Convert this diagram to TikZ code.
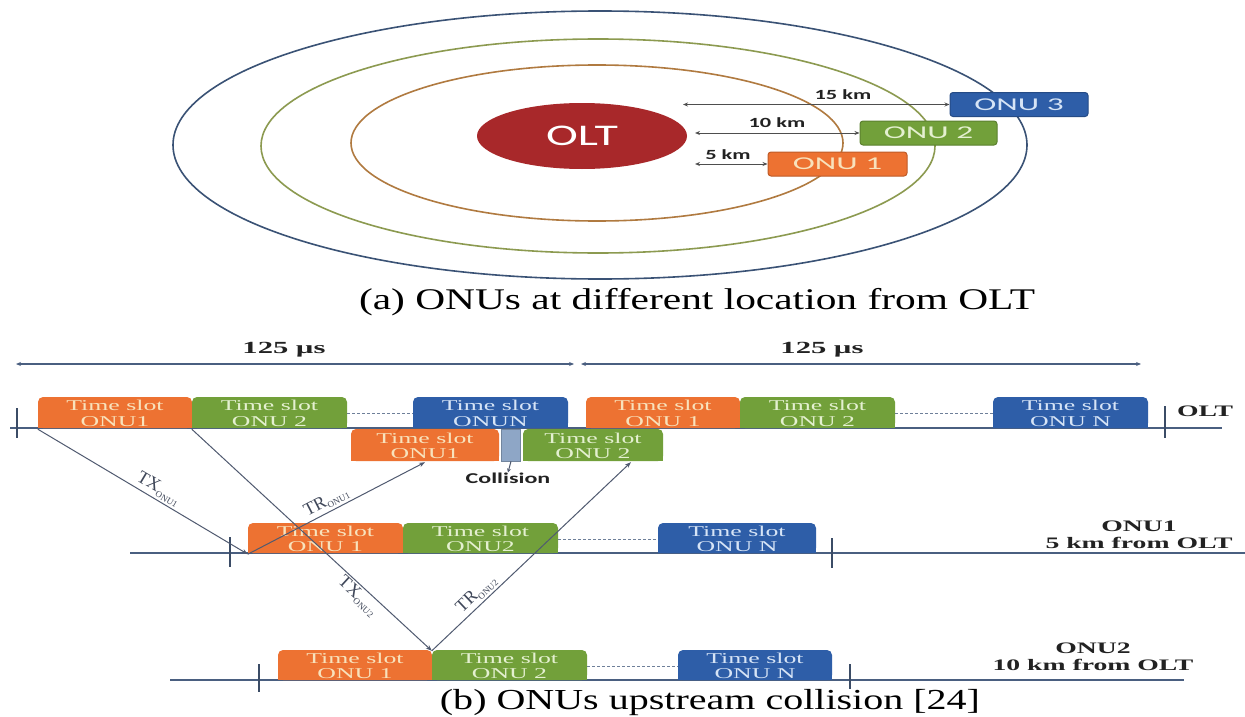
\documentclass[tikz,border=0pt]{standalone}
\usepackage{fontspec}
\setmainfont{Liberation Serif}
\newfontfamily\slotfont[FakeStretch=1.72]{Liberation Serif}
\newfontfamily\capfont[FakeStretch=1.38]{Liberation Serif}
\newfontfamily\tagfont[FakeStretch=1.73]{Liberation Serif}
\newfontfamily\usfont[FakeStretch=1.8]{Liberation Serif}
\newfontfamily\onufont[FakeStretch=1.85]{Carlito}
\newfontfamily\oltfont[FakeStretch=1.6]{Carlito}
\newfontfamily\kmfont[FakeStretch=1.6]{Carlito}
\usetikzlibrary{arrows.meta,shapes.geometric,calc}

\definecolor{slotOrange}{HTML}{ED7232}
\definecolor{slotGreen}{HTML}{72A03A}
\definecolor{slotBlue}{HTML}{2E5EA8}
\definecolor{txtOrange}{HTML}{F8E2BC}
\definecolor{txtGreen}{HTML}{E4F0D0}
\definecolor{txtBlue}{HTML}{D6E4F6}
\definecolor{barC}{HTML}{8EA6C6}
\definecolor{oltRed}{HTML}{A8282A}
\definecolor{ringOuter}{HTML}{3A5275}
\definecolor{ringMid}{HTML}{8C9A50}
\definecolor{ringIn}{HTML}{B07A40}
\definecolor{lineC}{HTML}{4A5F80}
\definecolor{connC}{HTML}{505A70}
\definecolor{darkTxt}{HTML}{222222}

% one time slot: rounded top corners, square bottom, named text node on top
% #1 name, #2 left x, #3 right x, #4 top y, #5 bottom y, #6 fill, #7 text colour, #8 text
\newcommand\tslot[8]{%
  \fill[#6, rounded corners=5pt] (#2,#5) -- (#2,#4) -- (#3,#4) -- (#3,#5) -- cycle;
  \fill[#6] (#2,{(#4+#5)/2}) rectangle (#3,#5);
  \node[slottext, text=#7, minimum width={#3-#2}, minimum height={#5-#4}]
    (#1) at ({(#2+#3)/2},{(#4+#5)/2+1}) {#8};
}
% subscript used in the link labels
\newcommand\lnksub[1]{\raisebox{-0.45ex}{\fontsize{9}{9}\selectfont #1}}

\begin{document}
\begin{tikzpicture}[
  x=1pt, y=-1pt,
  slottext/.style={inner sep=0pt, align=center,
    font=\slotfont\fontsize{15}{15.5}\selectfont},
  tline/.style={draw=lineC, line width=1.2pt},
  tick/.style={draw=lineC!80!black, line width=2pt},
  dashline/.style={draw=lineC!80, line width=1pt, dash pattern=on 3pt off 2pt},
  conn/.style={draw=connC, line width=1pt},
  tip/.style={-{Stealth[length=6pt,width=4.5pt]}},
  dtip/.style={{Stealth[length=5pt,width=4pt]}-{Stealth[length=5pt,width=4pt]}},
  onubox/.style={rounded corners=3pt, minimum height=24pt, inner sep=0pt,
    font=\onufont\fontsize{18}{18}\selectfont, line width=1pt},
  kmlabel/.style={inner sep=0pt, text=darkTxt,
    font=\kmfont\bfseries\fontsize{14}{14}\selectfont},
  tag/.style={inner sep=0pt, align=center, text=darkTxt,
    font=\tagfont\bfseries\fontsize{16}{17}\selectfont},
  uslabel/.style={inner sep=0pt, text=darkTxt,
    font=\usfont\bfseries\fontsize{17}{17}\selectfont},
  linklabel/.style={inner sep=2pt, sloped, text=connC!80!black,
    font=\fontsize{18}{18}\selectfont},
]
\useasboundingbox (0,0) rectangle (1245,717);
\fill[white] (0,0) rectangle (1245,717);

% ---------- (a) rings around the OLT ----------
\draw[ringOuter, line width=1.6pt] (600,145) ellipse [x radius=427, y radius=134];
\draw[ringMid, line width=1.6pt] (598,146) ellipse [x radius=337, y radius=107];
\draw[ringIn, line width=1.6pt] (597,143) ellipse [x radius=246, y radius=78];

\node[ellipse, fill=oltRed, minimum width=210pt, minimum height=66pt,
  text=white, font=\oltfont\fontsize{30}{30}\selectfont]
  (olt) at (582,136) {OLT};

\node[onubox, fill=slotBlue, draw=slotBlue!80!black, text=txtBlue,
  minimum width=138pt] (onu3) at (1019,104.5) {ONU 3};
\node[onubox, fill=slotGreen, draw=slotGreen!80!black, text=txtGreen,
  minimum width=137pt] (onu2) at (928.5,133) {ONU 2};
\node[onubox, fill=slotOrange, draw=slotOrange!80!black, text=txtOrange,
  minimum width=139pt] (onu1) at (837.5,164) {ONU 1};

\coordinate (k15) at (683,104.5);
\coordinate (k10) at (695,133);
\coordinate (k5) at (695,164);
\draw[draw=darkTxt!80, line width=0.9pt, dtip] (k15) -- (onu3.west);
\draw[draw=darkTxt!80, line width=0.9pt, dtip] (k10) -- (onu2.west);
\draw[draw=darkTxt!80, line width=0.9pt, dtip] (k5) -- (onu1.west);
\node[kmlabel] (l15) at (843,95) {15 km};
\node[kmlabel] (l10) at (777,123) {10 km};
\node[kmlabel] (l5) at (728,155) {5 km};

\node[inner sep=0pt, font=\capfont\fontsize{30}{30}\selectfont]
  (capa) at (697,302) {(a) ONUs at different location from OLT};

% ---------- (b) upstream frame timing ----------
\coordinate (d1a) at (16,364);
\coordinate (d1b) at (574,364);
\coordinate (d2a) at (581,364);
\coordinate (d2b) at (1141,364);
\draw[tline, dtip] (d1a) -- (d1b);
\draw[tline, dtip] (d2a) -- (d2b);
\node[uslabel] (us1) at (284,350) {125 µs};
\node[uslabel] (us2) at (822,350) {125 µs};

% OLT time line
\coordinate (oltL) at (10,428);
\coordinate (oltR) at (1222,428);
\draw[tline] (oltL) -- (oltR);
\draw[tick] (17,408) -- (17,438);
\draw[tick] (1165,406) -- (1165,438);
\node[tag] (tagolt) at (1205,411) {OLT};

\tslot{a1}{38}{192}{397}{428}{slotOrange}{txtOrange}{Time slot\\ONU1}
\tslot{a2}{192}{347}{397}{428}{slotGreen}{txtGreen}{Time slot\\ONU 2}
\tslot{a3}{413}{568}{397}{428}{slotBlue}{txtBlue}{Time slot\\ONUN}
\tslot{b1}{586}{740}{397}{428}{slotOrange}{txtOrange}{Time slot\\ONU 1}
\tslot{b2}{740}{895}{397}{428}{slotGreen}{txtGreen}{Time slot\\ONU 2}
\tslot{b3}{993}{1148}{397}{428}{slotBlue}{txtBlue}{Time slot\\ONU N}
\draw[dashline] (a2.east) -- (a3.west);
\draw[dashline] (b2.east) -- (b3.west);

% slots arriving at the OLT and overlapping
\tslot{c1}{351}{499}{429}{461}{slotOrange}{txtOrange}{Time slot\\ONU1}
\tslot{c2}{523}{663}{429}{461}{slotGreen}{txtGreen}{Time slot\\ONU 2}
\node[fill=barC, draw=barC!80!black, line width=0.6pt, inner sep=0pt,
  minimum width=19pt, minimum height=32pt] (bar) at (511,445) {};
\node[inner sep=0pt, text=darkTxt, font=\kmfont\bfseries\fontsize{15}{15}\selectfont]
  (coll) at (508,478) {Collision};
\draw[conn, -{Stealth[length=4pt,width=4pt]}] (bar.south) -- (coll.north);

% ONU1 time line
\coordinate (o1L) at (130,553);
\coordinate (o1R) at (1245,553);
\draw[tline] (o1L) -- (o1R);
\draw[tick] (230,537) -- (230,567);
\draw[tick] (832,538) -- (832,568);
\tslot{d1}{248}{403}{523}{553}{slotOrange}{txtOrange}{Time slot\\ONU 1}
\tslot{d2}{403}{558}{523}{553}{slotGreen}{txtGreen}{Time slot\\ONU2}
\tslot{d3}{658}{816}{523}{553}{slotBlue}{txtBlue}{Time slot\\ONU N}
\draw[dashline] (d2.east) -- (d3.west);
\node[tag] (tag1) at (1139,535) {ONU1\\5 km from OLT};

% ONU2 time line
\coordinate (o2L) at (170,680);
\coordinate (o2R) at (1184,680);
\draw[tline] (o2L) -- (o2R);
\draw[tick] (259,664) -- (259,692);
\draw[tick] (850,664) -- (850,689);
\tslot{e1}{278}{432}{650}{680}{slotOrange}{txtOrange}{Time slot\\ONU 1}
\tslot{e2}{432}{587}{650}{680}{slotGreen}{txtGreen}{Time slot\\ONU 2}
\tslot{e3}{678}{832}{650}{680}{slotBlue}{txtBlue}{Time slot\\ONU N}
\draw[dashline] (e2.east) -- (e3.west);
\node[tag] (tag2) at (1093,657) {ONU2\\10 km from OLT};

% transmit / receive paths
\draw[conn, tip] (a1.south west) -- node[linklabel, above, pos=0.55] (txo1)
  {TX\lnksub{ONU1}} (d1.south west);
\draw[conn, tip] (d1.south west) -- node[linklabel, above, pos=0.47] (tro1)
  {TR\lnksub{ONU1}} (c1.south);
\draw[conn, tip] (a2.south west) -- node[linklabel, below, pos=0.72] (txo2)
  {TX\lnksub{ONU2}} (e2.north west);
\draw[conn, tip] (e2.north west) -- node[linklabel, above, pos=0.26] (tro2)
  {TR\lnksub{ONU2}} ($(c2.south west)!0.77!(c2.south east)$);

\node[inner sep=0pt, font=\capfont\fontsize{29}{29}\selectfont]
  (capb) at (710,703) {(b) ONUs upstream collision [24]};
\end{tikzpicture}
\end{document}
